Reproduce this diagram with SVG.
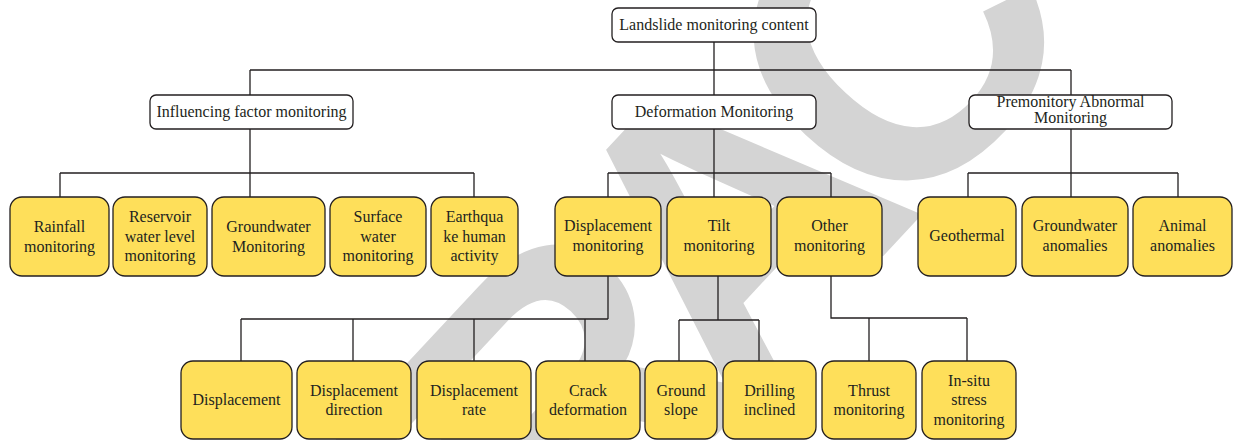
<svg xmlns="http://www.w3.org/2000/svg" width="1233" height="440" viewBox="0 0 1233 440">
<style>
.wm{font-family:"Liberation Sans",Arial,sans-serif;font-weight:bold;fill:#d4d4d4}
.w{fill:#ffffff;stroke:#231f20;stroke-width:1.3}
.y{fill:#fedf5a;stroke:#231f20;stroke-width:1.3}
.t{font-family:"Liberation Serif","Times New Roman",serif;font-size:16px;fill:#231f20;text-anchor:middle}
.c{fill:none;stroke:#231f20;stroke-width:1.3}
</style>
<rect width="1233" height="440" fill="#ffffff"/>
<g id="watermark" transform="translate(726,215) rotate(-47)">
<text class="wm" x="-24" y="143" font-size="400" letter-spacing="-48" text-anchor="middle">RETRACTED</text>
</g>
<g id="connectors" class="c">
<path d="M714 42V70M250 70H1071M250 70V95M714 70V95M1071 70V95"/>
<path d="M250 129V173M60 173H474M60 173V197M250 173V197M474 173V197"/>
<path d="M714 129V197M608 173H831M608 173V197M831 173V197"/>
<path d="M1071 129V197M968 173H1178M968 173V197M1178 173V197"/>
<path d="M608 276V319M241 319H608M241 319V361M353 319V361M474 319V361M585 319V361"/>
<path d="M718 276V320M679 320H759M679 320V361M759 320V361"/>
<path d="M831 276V318H967M869 318V361M967 318V361"/>
</g>
<g id="n-root"><rect class="w" x="612" y="8" width="204" height="34" rx="6"/><text class="t" x="714" y="30">Landslide monitoring content</text></g>
<g id="n-influencing"><rect class="w" x="150" y="95" width="203" height="34" rx="6"/><text class="t" x="251.5" y="117">Influencing factor monitoring</text></g>
<g id="n-deformation"><rect class="w" x="612" y="95" width="204" height="34" rx="6"/><text class="t" x="714" y="117">Deformation Monitoring</text></g>
<g id="n-premonitory"><rect class="w" x="969" y="95" width="203" height="34" rx="6"/><text class="t" x="1070.5" y="107">Premonitory Abnormal</text><text class="t" x="1070.5" y="123">Monitoring</text></g>

<g id="n-rainfall"><rect class="y" x="10" y="197" width="99" height="79" rx="12"/><text class="t" x="59.5" y="232">Rainfall</text><text class="t" x="59.5" y="251.5">monitoring</text></g>
<g id="n-reservoir"><rect class="y" x="113" y="197" width="94" height="79" rx="12"/><text class="t" x="160" y="222">Reservoir</text><text class="t" x="160" y="241.5">water level</text><text class="t" x="160" y="261">monitoring</text></g>
<g id="n-groundwater"><rect class="y" x="212" y="197" width="113" height="79" rx="12"/><text class="t" x="268.5" y="232">Groundwater</text><text class="t" x="268.5" y="251.5">Monitoring</text></g>
<g id="n-surface"><rect class="y" x="330" y="197" width="96" height="79" rx="12"/><text class="t" x="378" y="222">Surface</text><text class="t" x="378" y="241.5">water</text><text class="t" x="378" y="261">monitoring</text></g>
<g id="n-earthquake"><rect class="y" x="431" y="197" width="87" height="79" rx="12"/><text class="t" x="474.5" y="222">Earthqua</text><text class="t" x="474.5" y="241.5">ke human</text><text class="t" x="474.5" y="261">activity</text></g>
<g id="n-dispmon"><rect class="y" x="555" y="197" width="106" height="79" rx="12"/><text class="t" x="608" y="231">Displacement</text><text class="t" x="608" y="250.5">monitoring</text></g>
<g id="n-tilt"><rect class="y" x="667" y="197" width="104" height="79" rx="12"/><text class="t" x="719" y="231">Tilt</text><text class="t" x="719" y="250.5">monitoring</text></g>
<g id="n-other"><rect class="y" x="777" y="197" width="105" height="79" rx="12"/><text class="t" x="829.5" y="231">Other</text><text class="t" x="829.5" y="250.5">monitoring</text></g>
<g id="n-geothermal"><rect class="y" x="918" y="197" width="98" height="79" rx="12"/><text class="t" x="967" y="241">Geothermal</text></g>
<g id="n-gwanomalies"><rect class="y" x="1022" y="197" width="106" height="79" rx="12"/><text class="t" x="1075" y="231">Groundwater</text><text class="t" x="1075" y="250.5">anomalies</text></g>
<g id="n-animal"><rect class="y" x="1133" y="197" width="99" height="79" rx="12"/><text class="t" x="1182.5" y="231">Animal</text><text class="t" x="1182.5" y="250.5">anomalies</text></g>

<g id="n-displacement"><rect class="y" x="181" y="361" width="111" height="78" rx="12"/><text class="t" x="236.5" y="405">Displacement</text></g>
<g id="n-dispdir"><rect class="y" x="297" y="361" width="114" height="78" rx="12"/><text class="t" x="354" y="395.5">Displacement</text><text class="t" x="354" y="414.5">direction</text></g>
<g id="n-disprate"><rect class="y" x="417" y="361" width="114" height="78" rx="12"/><text class="t" x="474" y="395.5">Displacement</text><text class="t" x="474" y="414.5">rate</text></g>
<g id="n-crack"><rect class="y" x="536" y="361" width="104" height="78" rx="12"/><text class="t" x="588" y="395.5">Crack</text><text class="t" x="588" y="414.5">deformation</text></g>
<g id="n-groundslope"><rect class="y" x="645" y="361" width="72" height="78" rx="12"/><text class="t" x="681" y="395.5">Ground</text><text class="t" x="681" y="414.5">slope</text></g>
<g id="n-drilling"><rect class="y" x="723" y="361" width="93" height="78" rx="12"/><text class="t" x="769.5" y="395.5">Drilling</text><text class="t" x="769.5" y="414.5">inclined</text></g>
<g id="n-thrust"><rect class="y" x="822" y="361" width="94" height="78" rx="12"/><text class="t" x="869" y="395.5">Thrust</text><text class="t" x="869" y="414.5">monitoring</text></g>
<g id="n-insitu"><rect class="y" x="922" y="361" width="94" height="78" rx="12"/><text class="t" x="969" y="385.5">In-situ</text><text class="t" x="969" y="405">stress</text><text class="t" x="969" y="424.5">monitoring</text></g>
</svg>
